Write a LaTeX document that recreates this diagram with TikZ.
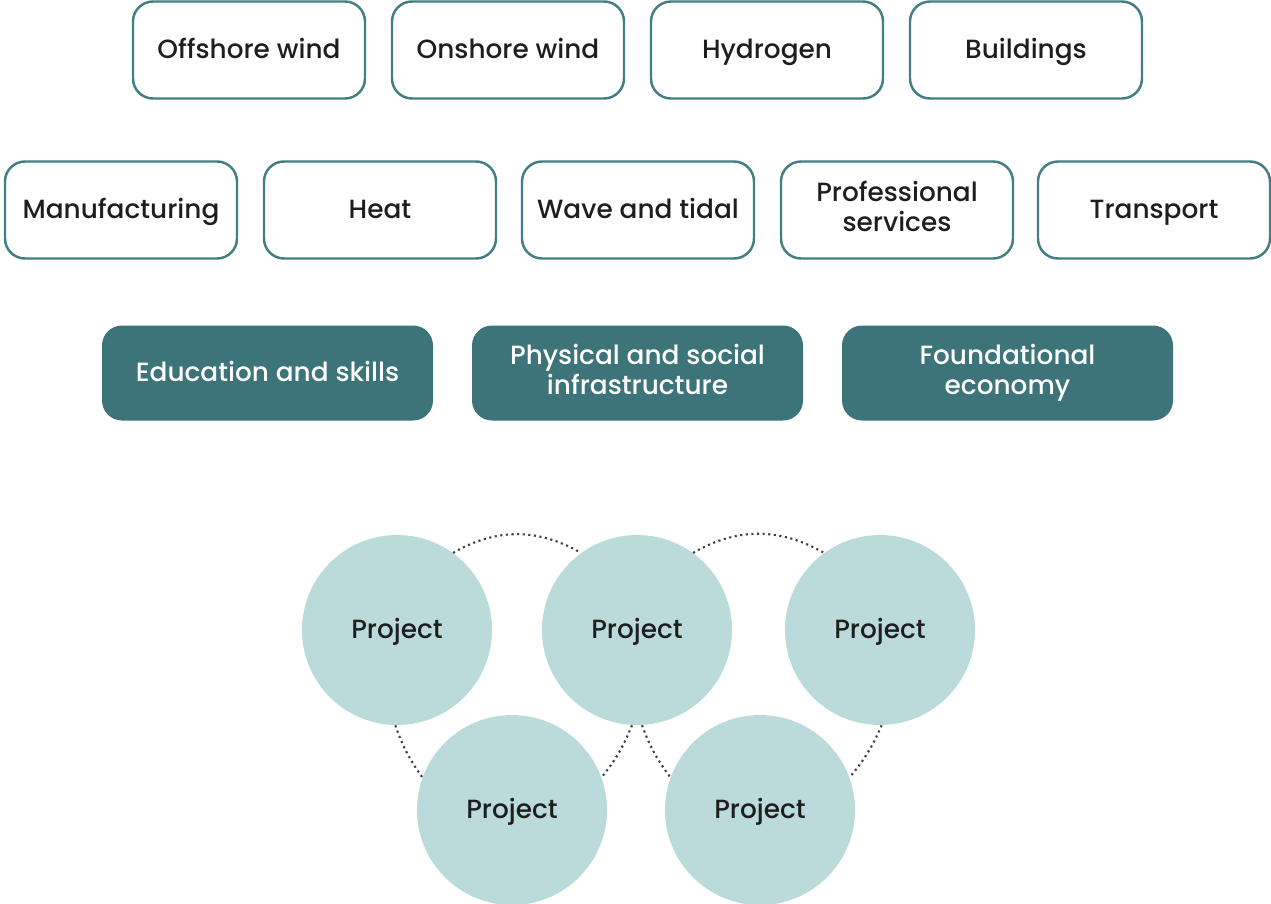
\documentclass[tikz,border=0pt]{standalone}
\usepackage{fontspec}
\setmainfont{Poppins}[UprightFont=* Medium]
\definecolor{tealline}{HTML}{437E82}
\definecolor{tealdark}{HTML}{3C7479}
\definecolor{tealpale}{HTML}{BADBD9}
\definecolor{ink}{HTML}{1E1E1E}
\tikzset{
  label font/.style={font=\fontsize{15}{17.5}\selectfont,
    execute at begin node=\rule{0pt}{0.95em}, execute at end node=\vphantom{g}},
  sector/.style={draw=tealline, line width=1.4pt, rounded corners=0.4cm, fill=white,
    minimum width=4.64cm, minimum height=1.94cm, align=center, text=ink, label font},
  enabler/.style={fill=tealdark, rounded corners=0.4cm, minimum width=6.62cm,
    minimum height=1.9cm, align=center, text=white, label font},
  project/.style={circle, fill=tealpale, minimum size=3.8cm, text=ink, label font},
  link/.style={draw=ink!85, dotted, line width=1.2pt}
}
\begin{document}
\begin{tikzpicture}
	\useasboundingbox (0,0) rectangle (25.42,-18.06);
	\node[sector] (off) at (4.98,-1.0) {Offshore wind};
	\node[sector] (on) at (10.16,-1.0) {Onshore wind};
	\node[sector] (hyd) at (15.34,-1.0) {Hydrogen};
	\node[sector] (bld) at (20.52,-1.0) {Buildings};
	\node[sector] (man) at (2.42,-4.2) {Manufacturing};
	\node[sector] (heat) at (7.6,-4.2) {Heat};
	\node[sector] (wave) at (12.76,-4.2) {Wave and tidal};
	\node[sector] (prof) at (17.94,-4.2) {Professional\\services};
	\node[sector] (trans) at (23.08,-4.2) {Transport};
	\node[enabler] (edu) at (5.35,-7.46) {Education and skills};
	\node[enabler] (phys) at (12.75,-7.46) {Physical and social\\infrastructure};
	\node[enabler] (found) at (20.15,-7.46) {Foundational\\economy};
	\node[project] (p1) at (7.94,-12.6) {Project};
	\node[project] (p2) at (12.74,-12.6) {Project};
	\node[project] (p3) at (17.6,-12.6) {Project};
	\node[project] (p4) at (10.24,-16.2) {Project};
	\node[project] (p5) at (15.2,-16.2) {Project};
	\draw[link] (p1.54) to[bend left=30] (p2.126);
	\draw[link] (p2.54) to[bend left=30] (p3.126);
	\draw[link] (p1.269) to[bend right=8] (p4.160);
	\draw[link] (p2.267) to[bend left=8] (p4.20);
	\draw[link] (p2.273) to[bend right=8] (p5.160);
	\draw[link] (p3.271) to[bend left=8] (p5.20);
\end{tikzpicture}
\end{document}
